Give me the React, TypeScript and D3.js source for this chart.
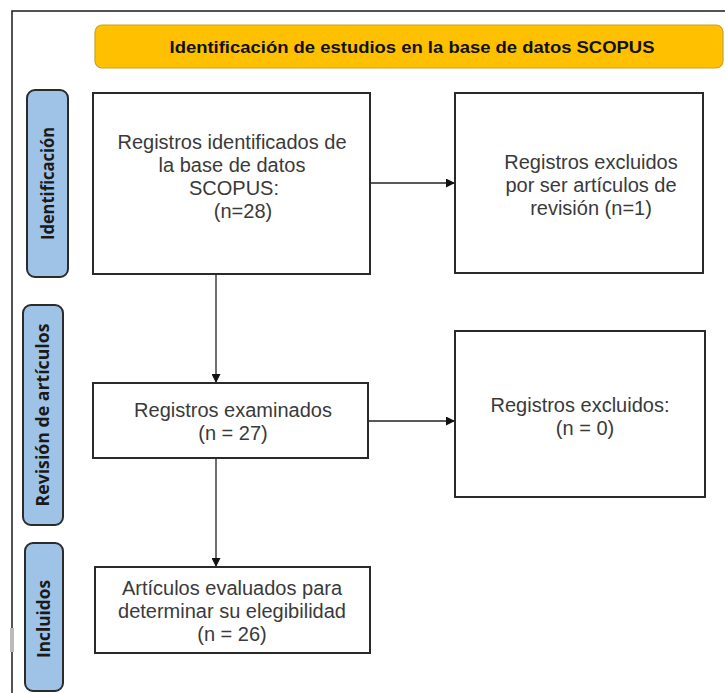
import * as d3 from 'd3';
import React, { useEffect, useRef } from 'react';

const titleText = 'Identificación de estudios en la base de datos SCOPUS';
const stageLabels = ['Identificación', 'Revisión de artículos', 'Incluidos'];
const boxTexts: string[][] = [
  ['Registros identificados de', 'la base de datos', 'SCOPUS:', '(n=28)'],
  ['Registros excluidos', 'por ser artículos de', 'revisión (n=1)'],
  ['Registros examinados', '(n = 27)'],
  ['Registros excluidos:', '(n = 0)'],
  ['Artículos evaluados para', 'determinar su elegibilidad', '(n = 26)'],
];
// box index pairs: from -> to
const links: [number, number][] = [
  [0, 1],
  [0, 2],
  [2, 3],
  [2, 4],
];

// layout (pixels)
const stageRects = [
  { x: 27, y: 90, w: 41, h: 187, len: 113 },
  { x: 23, y: 305, w: 40, h: 220, len: 183 },
  { x: 25, y: 543, w: 38, h: 148, len: 78 },
];
const boxRects = [
  { x: 93, y: 93, w: 277, h: 181, tx: 232, ty: 142, dx: [0, 0, 2, 11] },
  { x: 455, y: 93, w: 248, h: 180, tx: 591, ty: 162, dx: [0, 0, 0] },
  { x: 93, y: 383, w: 275, h: 75, tx: 233, ty: 410, dx: [0, 0] },
  { x: 455, y: 331, w: 250, h: 166, tx: 580, ty: 405, dx: [0, 5] },
  { x: 95, y: 567, w: 275, h: 86, tx: 232, ty: 588, dx: [0, 0, 0] },
];

export default function App() {
  const svgRef = useRef<SVGSVGElement | null>(null);

  useEffect(() => {
    if (!svgRef.current) return;
    const svg = d3.select(svgRef.current);
    svg.selectAll('*').remove();

    svg
      .append('defs')
      .append('marker')
      .attr('id', 'arrow')
      .attr('viewBox', '0 0 10 10')
      .attr('refX', 10)
      .attr('refY', 5)
      .attr('markerWidth', 9)
      .attr('markerHeight', 9)
      .attr('markerUnits', 'userSpaceOnUse')
      .attr('orient', 'auto')
      .append('path')
      .attr('d', 'M0,0L10,5L0,10Z')
      .attr('fill', '#111');

    // outer frame
    svg
      .append('path')
      .attr('d', 'M12,693V11H725')
      .attr('fill', 'none')
      .attr('stroke', '#1a1a1a')
      .attr('stroke-width', 1.5);
    svg.append('rect').attr('x', 10).attr('y', 628).attr('width', 4).attr('height', 24).attr('fill', '#bbb');

    // title banner
    svg
      .append('rect')
      .attr('x', 95)
      .attr('y', 25)
      .attr('width', 628)
      .attr('height', 43)
      .attr('rx', 7)
      .attr('fill', '#ffc000')
      .attr('stroke', '#c9a227')
      .attr('stroke-width', 1.2);
    svg
      .append('text')
      .attr('x', 412)
      .attr('y', 47)
      .attr('dy', '0.35em')
      .attr('text-anchor', 'middle')
      .attr('font-family', 'Liberation Sans, Arial, sans-serif')
      .attr('font-weight', 'bold')
      .attr('font-size', 17)
      .attr('textLength', 485)
      .attr('lengthAdjust', 'spacingAndGlyphs')
      .attr('fill', '#111')
      .text(titleText);

    // stage labels
    const stages = svg
      .selectAll('g.stage')
      .data(stageLabels)
      .enter()
      .append('g')
      .attr('class', 'stage');
    stages
      .append('rect')
      .attr('x', (d, i) => stageRects[i].x)
      .attr('y', (d, i) => stageRects[i].y)
      .attr('width', (d, i) => stageRects[i].w)
      .attr('height', (d, i) => stageRects[i].h)
      .attr('rx', 8)
      .attr('fill', '#9fc3e7')
      .attr('stroke', '#2b2b2b')
      .attr('stroke-width', 2);
    stages
      .append('text')
      .attr('transform', (d, i) => {
        const r = stageRects[i];
        const cy = i === 2 ? 619 : r.y + r.h / 2;
        return `translate(${r.x + r.w / 2},${cy}) rotate(-90)`;
      })
      .attr('dy', '0.36em')
      .attr('text-anchor', 'middle')
      .attr('font-family', 'Open Sans, Liberation Sans, sans-serif')
      .attr('font-weight', 'bold')
      .attr('font-size', 17)
      .attr('textLength', (d, i) => stageRects[i].len)
      .attr('lengthAdjust', 'spacingAndGlyphs')
      .attr('fill', '#1a1a1a')
      .text((d) => d);

    // arrows
    const anchor = (i: number, side: string) => {
      const b = boxRects[i];
      if (side === 'right') return [b.x + b.w, 0];
      if (side === 'left') return [b.x, 0];
      if (side === 'bottom') return [0, b.y + b.h];
      return [0, b.y];
    };
    const line = d3.line();
    links.forEach(([a, b]) => {
      let pts: [number, number][];
      if (boxRects[b].x > boxRects[a].x + 100) {
        const y = a === 0 ? 183 : 421;
        pts = [
          [anchor(a, 'right')[0], y],
          [anchor(b, 'left')[0], y],
        ];
      } else {
        pts = [
          [216, anchor(a, 'bottom')[1]],
          [216, anchor(b, 'top')[1]],
        ];
      }
      svg
        .append('path')
        .attr('d', line(pts))
        .attr('fill', 'none')
        .attr('stroke', '#222')
        .attr('stroke-width', 1.3)
        .attr('marker-end', 'url(#arrow)');
    });

    // boxes
    const boxes = svg
      .selectAll('g.box')
      .data(boxTexts)
      .enter()
      .append('g')
      .attr('class', 'box');
    boxes
      .append('rect')
      .attr('x', (d, i) => boxRects[i].x)
      .attr('y', (d, i) => boxRects[i].y)
      .attr('width', (d, i) => boxRects[i].w)
      .attr('height', (d, i) => boxRects[i].h)
      .attr('fill', '#fff')
      .attr('stroke', '#2a2a2a')
      .attr('stroke-width', 2);
    boxes.each(function (lines, i) {
      const r = boxRects[i];
      d3.select(this)
        .selectAll('text')
        .data(lines)
        .enter()
        .append('text')
        .attr('x', (d, j) => r.tx + r.dx[j])
        .attr('y', (d, j) => r.ty + j * 23)
        .attr('dy', '0.35em')
        .attr('text-anchor', 'middle')
        .attr('font-family', 'Liberation Sans, Arial, sans-serif')
        .attr('font-size', 20)
        .attr('fill', '#3a3a3a')
        .text((d) => d);
    });
  }, []);

  return (
    <svg
      ref={svgRef}
      width={725}
      height={693}
      style={{ position: 'absolute', left: 0, top: 0, background: '#fff' }}
    ></svg>
  );
}
